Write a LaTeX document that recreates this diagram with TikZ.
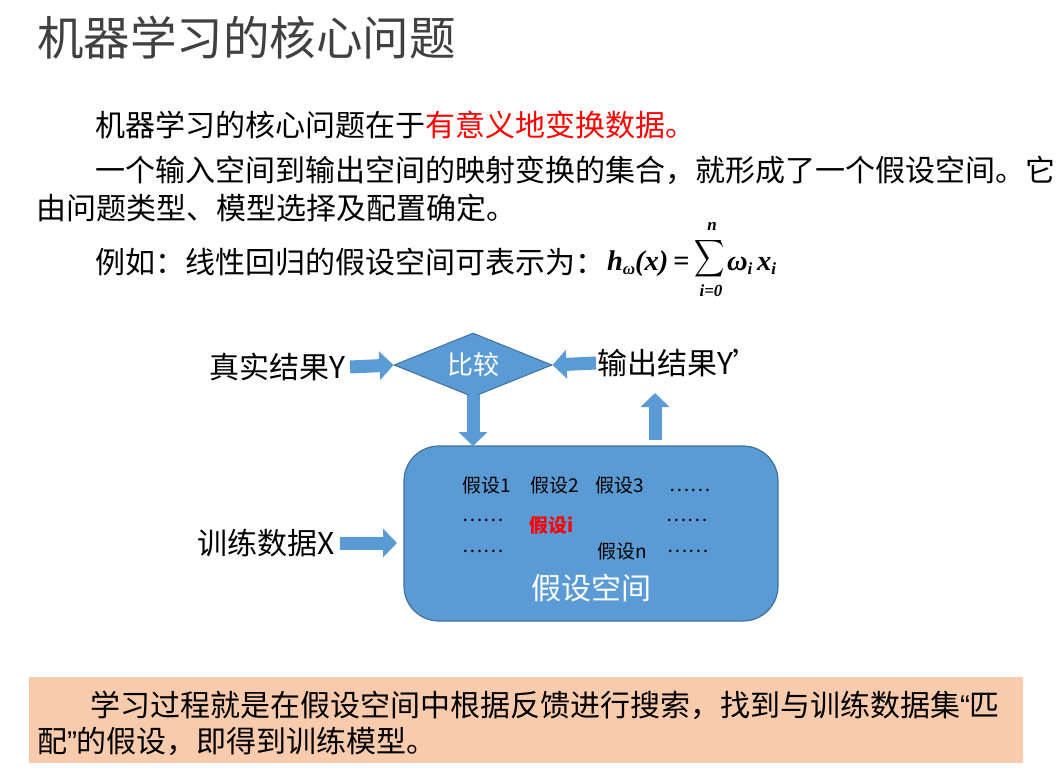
\documentclass[tikz,border=0pt]{standalone}
\usepackage{graphicx}
\usepackage{fontspec}
\setmainfont{Noto Sans CJK SC}
\newfontfamily\fml{Liberation Serif}
\newfontfamily\qf{Liberation Sans}
\usetikzlibrary{shapes.geometric,arrows.meta}
\definecolor{accblue}{HTML}{5B9BD5}
\definecolor{accborder}{HTML}{41719C}
\definecolor{peach}{HTML}{F8CBAD}
\definecolor{titlegray}{HTML}{404040}
\newcommand{\fsz}[1]{\fontsize{#1}{#1}\selectfont}
\newcommand{\sub}[1]{\raisebox{-4.5pt}{\fsz{17}#1}}
\tikzset{
  txt/.style={inner sep=0pt, outer sep=0pt},
  para/.style={txt, anchor=west, font=\fsz{30}},
  lab/.style={txt, font=\fsz{30}},
  hyp/.style={txt, font=\fsz{19}},
  fm/.style={txt, font=\fml\bfseries\itshape\fsz{28.5}},
  fmsmall/.style={txt, font=\fml\bfseries\itshape\fsz{17}},
  barrow/.style={draw=accblue, line width=13pt, -{Triangle[length=14pt,width=28pt]}},
}
\begin{document}
\begin{tikzpicture}[x=1pt,y=-1pt]
\useasboundingbox[fill=white] (0,0) rectangle (1060,776);
% title
\node[txt, anchor=west, font=\fsz{46.5}, text=titlegray] (title) at (37,38) {机器学习的核心问题};
% paragraphs
\node[para] (p1) at (95,125) {机器学习的核心问题在于\textcolor{red}{有意义地变换数据。}};
\node[para] (p2) at (95,170) {一个输入空间到输出空间的映射变换的集合，就形成了一个假设空间。它};
\node[para] (p3) at (36,208) {由问题类型、模型选择及配置确定。};
\node[para] (p4) at (95,262) {例如：线性回归的假设空间可表示为：};
% formula
\node[fm, anchor=base west] (fh) at (607,270) {h\sub{ω}(x)\,=};
\node[txt] (fsum) at (710,259) {\scalebox{2.1}[2.6]{$\displaystyle\sum$}};
\node[fmsmall] (fn) at (712,226) {n};
\node[fmsmall] (fi) at (711,291) {i=0};
\node[fm, anchor=base west] (fw) at (727,270) {ω\sub{i}\,x\sub{i}};
% diagram
\node[diamond, aspect=2.47, minimum width=158pt, minimum height=64pt, inner sep=0pt,
      fill=accblue, draw=accborder, line width=1pt, text=white, font=\fsz{26}] (cmp) at (473,365) {比较};
\node[lab, anchor=east] (real) at (345,367) {真实结果Y};
\node[lab, anchor=west] (out) at (597,363) {输出结果Y’};
\node[lab, anchor=east] (train) at (335,543) {训练数据X};
\node[txt, draw=accborder, fill=accblue, line width=1.2pt, rounded corners=35pt,
      minimum width=374pt, minimum height=175pt, anchor=north west] (space) at (404,446) {};
\node[txt, text=white, font=\fsz{30}] (spacelab) at (591,588) {假设空间};
\node[hyp] (h1) at (487,485) {假设1};
\node[hyp] (h2) at (555,485) {假设2};
\node[hyp] (h3) at (620,485) {假设3};
\node[hyp] (d1) at (690,490) {……};
\node[hyp] (d2) at (483,520) {……};
\node[hyp, text=red, font=\fsz{19}\bfseries] (hi) at (552,525) {假设i};
\node[hyp] (d3) at (687,520) {……};
\node[hyp] (d4) at (483,551) {……};
\node[hyp] (hn) at (622,551) {假设n};
\node[hyp] (d5) at (688,551) {……};
% arrows
\draw[barrow] ([xshift=5pt]real.east) -- (cmp.west);
\draw[barrow] ([xshift=-1pt]out.west) -- (cmp.east);
\draw[barrow] ([yshift=3pt]cmp.south) -- (space.north -| cmp.south);
\coordinate (upstart) at (655,440);
\coordinate (upend) at (655,393);
\draw[barrow] (upstart) -- (upend);
\draw[barrow] ([xshift=5pt]train.east) -- ([xshift=-7pt]space.west |- train.east);
% bottom box
\node[txt, fill=peach, minimum width=994pt, minimum height=86pt, anchor=north west] (note) at (29,677) {};
\node[txt, anchor=west, font=\fsz{30}] (n1) at (90,705) {学习过程就是在假设空间中根据反馈进行搜索，找到与训练数据集{\qf “}匹};
\node[txt, anchor=west, font=\fsz{30}] (n2) at (37,741) {配{\qf ”}的假设，即得到训练模型。};
\end{tikzpicture}
\end{document}
